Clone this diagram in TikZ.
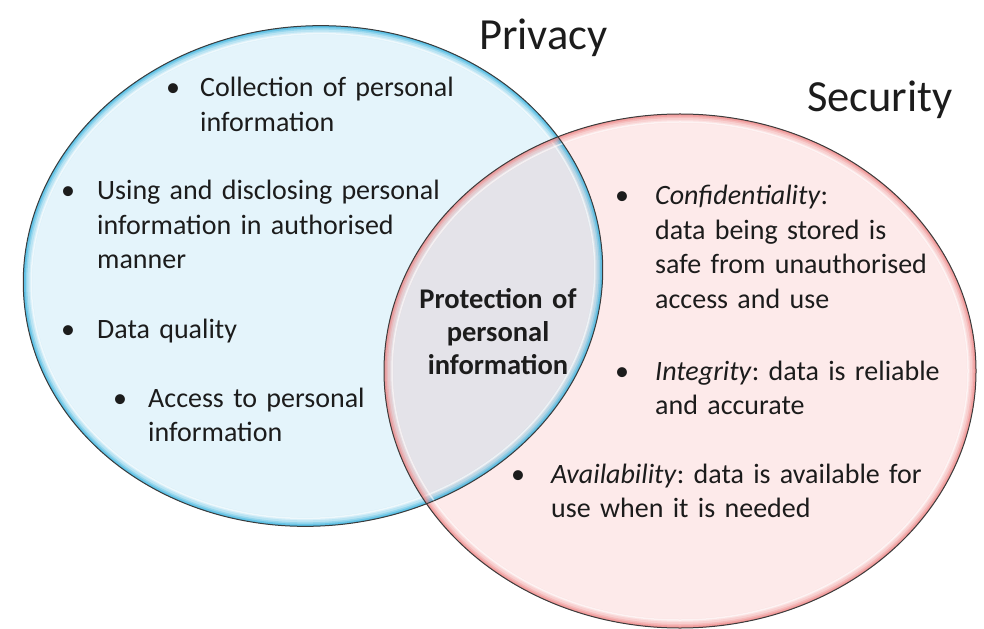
\documentclass[tikz,border=0pt]{standalone}
\usepackage{fontspec}
\setmainfont{Carlito}
\usetikzlibrary{positioning}
\definecolor{SkyFill}{HTML}{E4F4FB}
\definecolor{SkyGlow}{HTML}{2FB0DE}
\definecolor{RoseFill}{HTML}{FDEAEA}
\definecolor{RoseGlow}{HTML}{EE8080}
\definecolor{Overlap}{HTML}{E4E3E9}
\definecolor{Rim}{HTML}{3C3C3C}
\definecolor{Ink}{HTML}{1C1C1C}
\newcommand{\privacyshape}{(313,276) ellipse [x radius=290bp, y radius=250bp, rotate=5]}
\newcommand{\securityshape}{(680,371) ellipse [x radius=296bp, y radius=257bp]}
\frenchspacing

\begin{document}
\begin{tikzpicture}[x=1bp, y=-1bp,
    txt/.style={anchor=base west, inner sep=0pt, text width=420bp, align=left,
                text=Ink, font=\fontsize{28bp}{34.5bp}\selectfont},
    dot/.style={anchor=base, inner sep=0pt, text=Ink,
                font=\fontsize{28bp}{34.5bp}\selectfont},
    title/.style={anchor=base west, inner sep=0pt, text=Ink,
                  font=\fontsize{44.5bp}{50bp}\selectfont}]
    \useasboundingbox (0,0) rectangle (984,629);

    % Circle fills
    \fill[SkyFill] \privacyshape;
    \fill[RoseFill] \securityshape;
    \begin{scope}
        \clip \privacyshape;
        \fill[Overlap] \securityshape;
    \end{scope}

    % Soft rims
    \begin{scope}
        \clip \privacyshape;
        \foreach \w/\o in {18/0.08, 12/0.16, 8/0.26, 5/0.4, 2/0.55}
            \draw[SkyGlow, line width=\w bp, opacity=\o] \privacyshape;
        \draw[white, line width=1.5bp, opacity=0.6]
            (313,276) ellipse [x radius=282bp, y radius=242bp, rotate=5];
    \end{scope}
    \begin{scope}
        \clip \securityshape;
        \foreach \w/\o in {18/0.08, 12/0.16, 8/0.26, 5/0.4, 2/0.55}
            \draw[RoseGlow, line width=\w bp, opacity=\o] \securityshape;
        \draw[white, line width=1.5bp, opacity=0.6]
            (680,371) ellipse [x radius=288bp, y radius=249bp];
    \end{scope}
    \draw[Rim, line width=1bp] \privacyshape;
    \draw[Rim, line width=1bp] \securityshape;

    % Titles
    \node[title] (privacy) at (479,50) {Privacy};
    \node[title] (security) at (807,112) {Security};

    % Bullet items
    \foreach \name/\bx/\tx/\by/\body in {
        collect/173/200/97/{Collection of personal\\information},
        disclose/68/97/200/{Using and disclosing personal\\information in authorised\\manner},
        quality/68/97/338/{Data quality},
        access/120/148/407/{Access to personal\\information},
        confid/622/655/205/{\textit{Confidentiality}:\\data being stored is\\safe from unauthorised\\access and use},
        integ/622/655/380/{\textit{Integrity}: data is reliable\\and accurate},
        avail/518/551/483/{\textit{Availability}: data is available for\\use when it is needed}} {
        \node[dot] (\name-dot) at (\bx,\by) {\textbullet};
        \node[txt] (\name) at (\tx,\by) {\body};
    }

    % Shared part
    \node[anchor=base, inner sep=0pt, text width=200bp, align=center, text=Ink,
          font=\fontsize{28.5bp}{33bp}\selectfont\bfseries] (shared) at (498,308)
        {Protection of\\personal\\information};
\end{tikzpicture}
\end{document}
